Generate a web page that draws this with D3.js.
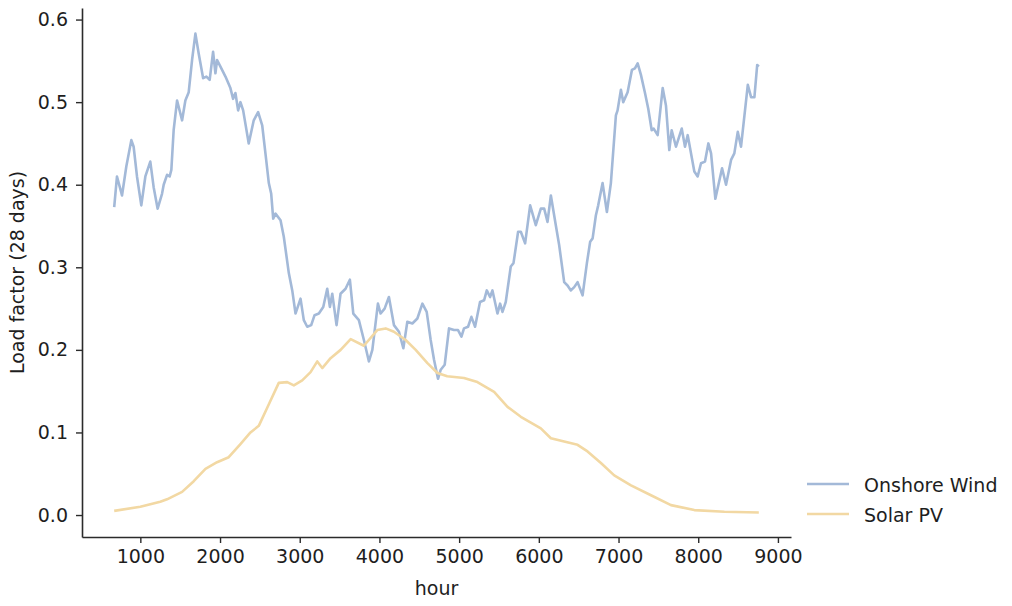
<!DOCTYPE html>
<html>
<head>
<meta charset="utf-8">
<script src="https://cdn.jsdelivr.net/npm/d3@7"></script>
<style>
	body { margin: 0; background: #fff; }
	text { font-family: "DejaVu Sans", sans-serif; fill: #1e1e1e; }
</style>
</head>
<body>
<svg></svg>
<script>
const width = 1012;
const height = 606;
const fontSize = 19;

// series names as shown in legend
const seriesNames = ['Onshore Wind', 'Solar PV'];
const seriesColors = ['#a3b9d8', '#f2d8a3'];

// [hour, load factor], 28 day rolling mean
const windData = [
	[672,0.373],[707,0.410],[770,0.387],[824,0.422],[887,0.454],[916,0.446],[958,0.410],[1012,0.375],
	[1063,0.410],[1125,0.428],[1167,0.397],[1217,0.371],[1272,0.389],[1293,0.400],[1335,0.412],[1368,0.410],
	[1389,0.418],[1418,0.466],[1461,0.502],[1524,0.478],[1565,0.502],[1607,0.512],[1649,0.551],[1691,0.583],
	[1732,0.559],[1788,0.529],[1829,0.531],[1870,0.527],[1913,0.561],[1942,0.535],[1963,0.551],[2005,0.543],
	[2068,0.531],[2130,0.517],[2164,0.504],[2193,0.511],[2227,0.490],[2256,0.500],[2290,0.490],[2360,0.450],
	[2423,0.478],[2478,0.488],[2529,0.472],[2579,0.430],[2612,0.402],[2642,0.389],[2667,0.359],[2696,0.365],
	[2759,0.357],[2800,0.337],[2863,0.293],[2906,0.272],[2947,0.244],[3010,0.262],[3051,0.236],[3094,0.228],
	[3144,0.230],[3186,0.242],[3240,0.244],[3295,0.252],[3345,0.274],[3378,0.252],[3408,0.268],[3462,0.230],
	[3512,0.268],[3575,0.274],[3629,0.285],[3672,0.244],[3742,0.236],[3805,0.212],[3868,0.186],[3911,0.200],
	[3981,0.256],[4015,0.244],[4065,0.250],[4119,0.264],[4182,0.230],[4245,0.222],[4300,0.202],[4350,0.234],
	[4413,0.232],[4476,0.238],[4539,0.256],[4593,0.246],[4643,0.212],[4685,0.188],[4735,0.165],[4769,0.176],
	[4819,0.182],[4873,0.226],[4936,0.224],[4986,0.224],[5029,0.216],[5061,0.226],[5112,0.228],[5154,0.240],
	[5200,0.228],[5262,0.258],[5313,0.260],[5347,0.272],[5388,0.264],[5418,0.272],[5481,0.244],[5514,0.256],
	[5544,0.246],[5585,0.258],[5648,0.301],[5682,0.305],[5740,0.343],[5774,0.343],[5828,0.329],[5891,0.375],
	[5962,0.351],[6025,0.371],[6067,0.371],[6109,0.355],[6151,0.387],[6213,0.351],[6255,0.327],[6318,0.282],
	[6360,0.278],[6402,0.272],[6444,0.276],[6486,0.282],[6549,0.266],[6603,0.305],[6644,0.331],[6675,0.335],
	[6716,0.363],[6745,0.375],[6800,0.402],[6854,0.367],[6904,0.402],[6967,0.484],[6988,0.490],[7030,0.515],
	[7059,0.500],[7114,0.512],[7168,0.539],[7206,0.541],[7240,0.547],[7281,0.533],[7332,0.511],[7373,0.492],
	[7416,0.466],[7441,0.468],[7491,0.460],[7554,0.517],[7595,0.496],[7637,0.442],[7667,0.466],[7721,0.446],
	[7793,0.468],[7834,0.446],[7868,0.460],[7951,0.416],[7993,0.410],[8035,0.426],[8085,0.428],[8127,0.450],
	[8161,0.438],[8215,0.383],[8299,0.420],[8349,0.400],[8412,0.430],[8453,0.438],[8496,0.464],[8537,0.446],
	[8622,0.521],[8663,0.506],[8705,0.506],[8740,0.545],[8760,0.543]
];

const solarData = [
	[672,0.005],[1000,0.010],[1250,0.016],[1335,0.019],[1524,0.028],[1670,0.041],[1817,0.056],[1963,0.064],
	[2109,0.070],[2256,0.086],[2382,0.100],[2486,0.108],[2592,0.130],[2737,0.160],[2843,0.161],[2926,0.157],
	[3031,0.163],[3136,0.173],[3220,0.186],[3283,0.178],[3387,0.190],[3513,0.200],[3639,0.213],[3805,0.205],
	[3973,0.224],[4078,0.226],[4182,0.222],[4329,0.212],[4455,0.200],[4602,0.184],[4728,0.172],[4850,0.168],
	[5061,0.166],[5229,0.161],[5439,0.149],[5607,0.131],[5774,0.119],[6025,0.105],[6151,0.093],[6318,0.089],
	[6486,0.085],[6611,0.077],[6779,0.063],[6946,0.048],[7156,0.036],[7407,0.024],[7658,0.012],[7951,0.006],
	[8328,0.004],[8760,0.003]
];

const xTicks = [1000,2000,3000,4000,5000,6000,7000,8000,9000];
const yTicks = [0.0,0.1,0.2,0.3,0.4,0.5,0.6];

const plotLeft = 82, plotRight = 791, plotTop = 8, plotBottom = 537;

var svg = d3.select('svg').attr('width', width).attr('height', height);

var x = d3.scaleLinear().domain([268, 9164]).range([plotLeft, plotRight]);
var y = d3.scaleLinear().domain([-0.0266, 0.614]).range([plotBottom, plotTop]);

var line = d3.line().x(d => x(d[0])).y(d => y(d[1]));

// lines
[windData, solarData].forEach((data, i) => {
	svg.append('path')
	.datum(data)
	.attr('d', line)
	.style('fill', 'none')
	.style('stroke', seriesColors[i])
	.style('stroke-width', 2.6)
	.style('stroke-linejoin', 'round');
});

// axes
var xAxis = svg.append('g')
.attr('transform', 'translate(0,'+plotBottom+')')
.call(d3.axisBottom(x).tickValues(xTicks).tickFormat(d3.format('d')).tickSize(6).tickPadding(7).tickSizeOuter(0));
var yAxis = svg.append('g')
.attr('transform', 'translate('+plotLeft+',0)')
.call(d3.axisLeft(y).tickValues(yTicks).tickFormat(d3.format('.1f')).tickSize(6).tickPadding(8).tickSizeOuter(0));

[xAxis, yAxis].forEach(a => {
	a.select('.domain').style('stroke', '#2b2b2b').style('stroke-width', 1.6);
	a.selectAll('.tick line').style('stroke', '#2b2b2b').style('stroke-width', 1.4);
	a.selectAll('.tick text').style('font-size', fontSize+'px').style('fill', '#1e1e1e')
	.style('font-family', '"DejaVu Sans", sans-serif');
});

// axis labels
svg.append('text')
.attr('x', (plotLeft+plotRight)/2).attr('y', 588)
.attr('text-anchor', 'middle').attr('dominant-baseline', 'central')
.style('font-size', fontSize+'px')
.text('hour');

svg.append('text')
.attr('transform', 'translate(17,'+((plotTop+plotBottom)/2)+') rotate(-90)')
.attr('text-anchor', 'middle').attr('dominant-baseline', 'central')
.style('font-size', fontSize+'px')
.text('Load factor (28 days)');

// legend, outside right, no frame
var legend = svg.append('g').attr('transform', 'translate(807,484)');
seriesNames.forEach((name, i) => {
	var g = legend.append('g').attr('transform', 'translate(0,'+(i*30)+')');
	g.append('line')
	.attr('x1', 0).attr('x2', 42).attr('y1', 0).attr('y2', 0)
	.style('stroke', seriesColors[i]).style('stroke-width', 2.6);
	g.append('text')
	.attr('x', 57).attr('y', 1)
	.attr('dominant-baseline', 'central')
	.style('font-size', fontSize+'px')
	.text(name);
});
</script>
</body>
</html>
